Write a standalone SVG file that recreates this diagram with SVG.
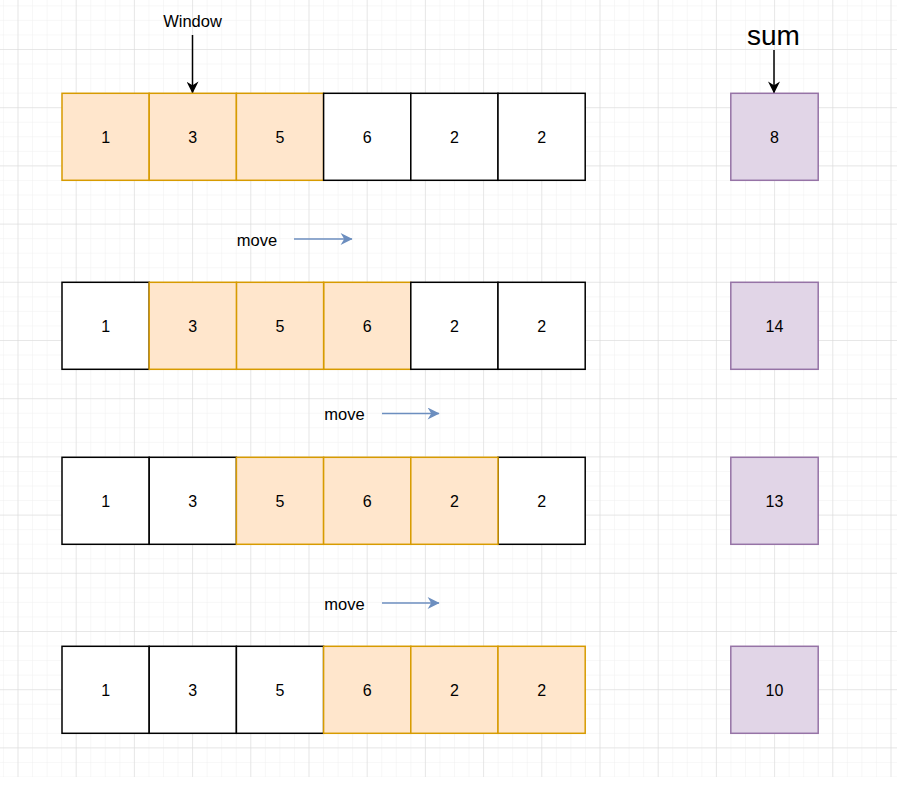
<svg xmlns="http://www.w3.org/2000/svg" width="914" height="798" viewBox="0 0 914 798">
<style>
.t{font-family:"Liberation Sans",Arial,sans-serif;font-size:16px;fill:#000;text-anchor:middle;dominant-baseline:central}
.w{fill:#ffffff;stroke:#000;stroke-width:1.5}
.o{fill:#ffe6cc;stroke:#d79b00;stroke-width:1.5}
.p{fill:#e1d5e7;stroke:#9673a6;stroke-width:1.5}
.blk{stroke:#000;stroke-width:1.5;fill:none}
.blu{stroke:#6c8ebf;stroke-width:1.5;fill:none}
</style>
<defs>
<pattern id="minor" width="14.55" height="14.55" patternUnits="userSpaceOnUse" x="17.5" y="-9.2">
<path d="M0 0H14.55M0 0V14.55" stroke="#efefef" stroke-width="1" fill="none"/>
</pattern>
<pattern id="major" width="58.2" height="58.2" patternUnits="userSpaceOnUse" x="17.5" y="-9.2">
<path d="M0 0H58.2M0 0V58.2" stroke="#d8d8d8" stroke-width="1" fill="none"/>
</pattern>
<marker id="ab" viewBox="0 0 10 10" refX="9.5" refY="5" markerWidth="13" markerHeight="12" markerUnits="userSpaceOnUse" orient="auto"><path d="M0 0L10 5L0 10L3 5Z" fill="#000"/></marker>
<marker id="ablu" viewBox="0 0 10 10" refX="9.5" refY="5" markerWidth="14" markerHeight="12" markerUnits="userSpaceOnUse" orient="auto"><path d="M0 0L10 5L0 10L3 5Z" fill="#6c8ebf"/></marker>
</defs>
<rect width="914" height="798" fill="#ffffff"/>
<rect width="897" height="777" fill="url(#minor)"/>
<rect width="897" height="777" fill="url(#major)"/>

<g id="connectors">
<line class="blk" x1="192.5" y1="35" x2="192.5" y2="93" marker-end="url(#ab)"/>
<line class="blk" x1="774" y1="50" x2="774" y2="93" marker-end="url(#ab)"/>
<line class="blu" x1="294" y1="239" x2="352" y2="239" marker-end="url(#ablu)"/>
<line class="blu" x1="382" y1="413.5" x2="439" y2="413.5" marker-end="url(#ablu)"/>
<line class="blu" x1="382" y1="603" x2="439" y2="603" marker-end="url(#ablu)"/>
</g>

<g id="label-window"><text class="t" x="192.5" y="21" style="font-size:16.5px">Window</text></g>
<g id="label-sum"><text class="t" x="773.5" y="35" style="font-size:28px">sum</text></g>
<g id="label-move1"><text class="t" x="257" y="240" style="font-size:16.5px">move</text></g>
<g id="label-move2"><text class="t" x="344.5" y="414" style="font-size:16.5px">move</text></g>
<g id="label-move3"><text class="t" x="344.5" y="603.5" style="font-size:16.5px">move</text></g>

<!-- Row 1 -->
<g id="r1c1"><rect class="o" x="62" y="93.3" width="87.2" height="87"/><text class="t" x="105.6" y="137.8">1</text></g>
<g id="r1c2"><rect class="o" x="149.2" y="93.3" width="87.2" height="87"/><text class="t" x="192.8" y="137.8">3</text></g>
<g id="r1c3"><rect class="o" x="236.4" y="93.3" width="87.2" height="87"/><text class="t" x="280" y="137.8">5</text></g>
<g id="r1c4"><rect class="w" x="323.6" y="93.3" width="87.2" height="87"/><text class="t" x="367.2" y="137.8">6</text></g>
<g id="r1c5"><rect class="w" x="410.8" y="93.3" width="87.2" height="87"/><text class="t" x="454.4" y="137.8">2</text></g>
<g id="r1c6"><rect class="w" x="498" y="93.3" width="87.2" height="87"/><text class="t" x="541.6" y="137.8">2</text></g>
<g id="sum1"><rect class="p" x="730.8" y="93.3" width="87.4" height="87"/><text class="t" x="774.5" y="137.8">8</text></g>

<!-- Row 2 -->
<g id="r2c1"><rect class="w" x="62" y="282.3" width="87.2" height="87"/><text class="t" x="105.6" y="326.8">1</text></g>
<g id="r2c4"><rect class="o" x="323.6" y="282.3" width="87.2" height="87"/><text class="t" x="367.2" y="326.8">6</text></g>
<g id="r2c3"><rect class="o" x="236.4" y="282.3" width="87.2" height="87"/><text class="t" x="280" y="326.8">5</text></g>
<g id="r2c2"><rect class="o" x="149.2" y="282.3" width="87.2" height="87"/><text class="t" x="192.8" y="326.8">3</text></g>
<g id="r2c5"><rect class="w" x="410.8" y="282.3" width="87.2" height="87"/><text class="t" x="454.4" y="326.8">2</text></g>
<g id="r2c6"><rect class="w" x="498" y="282.3" width="87.2" height="87"/><text class="t" x="541.6" y="326.8">2</text></g>
<g id="sum2"><rect class="p" x="730.8" y="282.3" width="87.4" height="87"/><text class="t" x="774.5" y="326.8">14</text></g>

<!-- Row 3 -->
<g id="r3c1"><rect class="w" x="62" y="457.3" width="87.2" height="87"/><text class="t" x="105.6" y="501.8">1</text></g>
<g id="r3c2"><rect class="w" x="149.2" y="457.3" width="87.2" height="87"/><text class="t" x="192.8" y="501.8">3</text></g>
<g id="r3c6"><rect class="w" x="498" y="457.3" width="87.2" height="87"/><text class="t" x="541.6" y="501.8">2</text></g>
<g id="r3c3"><rect class="o" x="236.4" y="457.3" width="87.2" height="87"/><text class="t" x="280" y="501.8">5</text></g>
<g id="r3c4"><rect class="o" x="323.6" y="457.3" width="87.2" height="87"/><text class="t" x="367.2" y="501.8">6</text></g>
<g id="r3c5"><rect class="o" x="410.8" y="457.3" width="87.2" height="87"/><text class="t" x="454.4" y="501.8">2</text></g>
<g id="sum3"><rect class="p" x="730.8" y="457.3" width="87.4" height="87"/><text class="t" x="774.5" y="501.8">13</text></g>

<!-- Row 4 -->
<g id="r4c1"><rect class="w" x="62" y="646.3" width="87.2" height="87"/><text class="t" x="105.6" y="690.8">1</text></g>
<g id="r4c2"><rect class="w" x="149.2" y="646.3" width="87.2" height="87"/><text class="t" x="192.8" y="690.8">3</text></g>
<g id="r4c3"><rect class="w" x="236.4" y="646.3" width="87.2" height="87"/><text class="t" x="280" y="690.8">5</text></g>
<g id="r4c4"><rect class="o" x="323.6" y="646.3" width="87.2" height="87"/><text class="t" x="367.2" y="690.8">6</text></g>
<g id="r4c5"><rect class="o" x="410.8" y="646.3" width="87.2" height="87"/><text class="t" x="454.4" y="690.8">2</text></g>
<g id="r4c6"><rect class="o" x="498" y="646.3" width="87.2" height="87"/><text class="t" x="541.6" y="690.8">2</text></g>
<g id="sum4"><rect class="p" x="730.8" y="646.3" width="87.4" height="87"/><text class="t" x="774.5" y="690.8">10</text></g>
</svg>
